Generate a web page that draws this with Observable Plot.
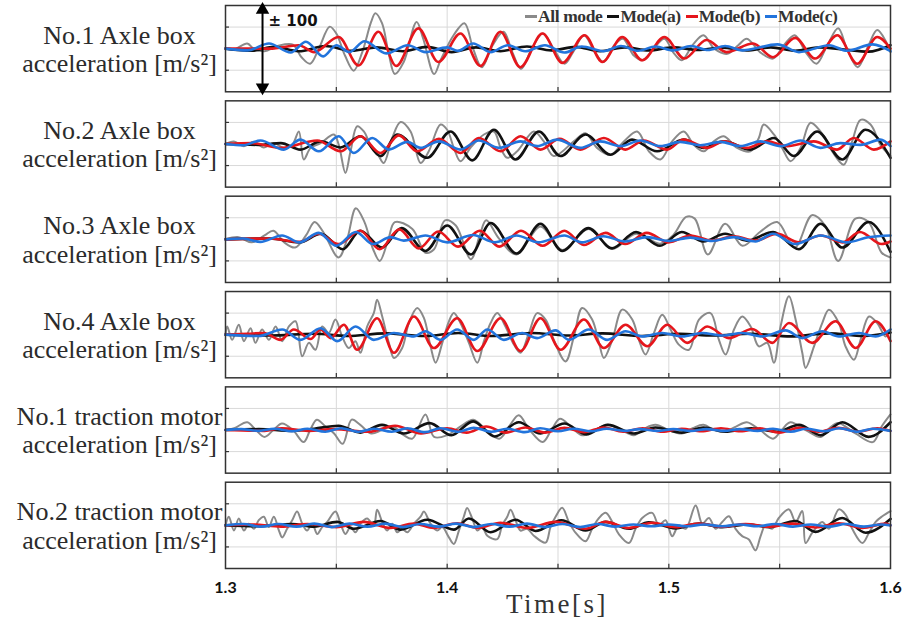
<!DOCTYPE html>
<html><head><meta charset="utf-8">
<script src="https://cdn.jsdelivr.net/npm/d3@7"></script>
<script src="https://cdn.jsdelivr.net/npm/@observablehq/plot@0.6"></script>
<style>
body{margin:0;background:#fff}
#wrap{position:relative;width:907px;height:621px}
#legend{position:absolute;left:520px;top:6px;display:flex;align-items:center;font:bold 17.5px 'Liberation Serif',serif;color:#333;white-space:nowrap;letter-spacing:-0.4px}
.sw{display:inline-block;width:12px;height:3px;margin:0 1px 0 5px}
#xtitle{position:absolute;left:0;width:907px;top:589px;padding-left:207px;box-sizing:border-box;text-align:center;font:27px 'Liberation Serif',serif;color:#333;letter-spacing:2.5px}
</style>
</head><body><div id="wrap"><div id="legend"></div><div id="xtitle"></div></div>
<script>
// ---------------- data ----------------
const panelIds = [1, 2, 3, 4, 5, 6];
const panelLabels = [
  "No.1 Axle box\nacceleration [m/s²]",
  "No.2 Axle box\nacceleration [m/s²]",
  "No.3 Axle box\nacceleration [m/s²]",
  "No.4 Axle box\nacceleration [m/s²]",
  "No.1 traction motor\nacceleration [m/s²]",
  "No.2 traction motor\nacceleration [m/s²]"
];
const seriesNames = ["All mode", "Mode(a)", "Mode(b)", "Mode(c)"];
const seriesColors = ["#8a8a8a", "#111111", "#e5161c", "#2274dc"];
const xDomain = [1.3, 1.6];
const yDomain = [-100, 100];
const xTickLabels = [1.3, 1.4, 1.5, 1.6];
const xGridTicks = [1.35, 1.4, 1.45, 1.5, 1.55];
const yGridTicks = [-50, 50];
const xAxisTitle = "Time[s]";
const rangeLabel = "± 100";
const rangeValue = 100;
const rangeAt = 1.3167;

// [time s, acceleration] pairs
const allMode1 = [[1.300,0],[1.3039,-2],[1.3098,12],[1.3127,0],[1.3176,-6],[1.3235,6],[1.3304,9],[1.3343,-20],[1.3382,-35],[1.3421,0],[1.3470,51],[1.3500,35],[1.3539,-16],[1.3578,-51],[1.3617,-8],[1.3657,62],[1.3676,82],[1.3706,59],[1.3735,-8],[1.3764,-59],[1.3804,-31],[1.3862,62],[1.3892,23],[1.3941,-59],[1.3970,-27],[1.4029,31],[1.4078,59],[1.4117,0],[1.4156,-43],[1.4205,8],[1.4254,39],[1.4294,-8],[1.4333,-47],[1.4382,0],[1.4431,35],[1.4480,0],[1.4529,-35],[1.4568,-8],[1.4617,31],[1.4666,-8],[1.4705,-31],[1.4754,8],[1.4793,23],[1.4842,-16],[1.4882,-27],[1.4931,0],[1.4980,23],[1.5019,-8],[1.5058,-27],[1.5107,8],[1.5156,31],[1.5205,0],[1.5264,-12],[1.5313,8],[1.5352,23],[1.5411,-8],[1.5470,-23],[1.5519,8],[1.5568,31],[1.5617,-8],[1.5666,-35],[1.5715,8],[1.5764,47],[1.5803,0],[1.5852,-43],[1.5901,8],[1.5940,43],[1.5980,16],[1.600,-8]];
const modeA1 = [[1.300,0],[1.312,-5],[1.322,4],[1.333,-6],[1.345,6],[1.357,-5],[1.368,3],[1.380,-6],[1.391,4],[1.402,-8],[1.413,3],[1.424,-6],[1.436,5],[1.447,-4],[1.458,4],[1.469,-6],[1.480,3],[1.491,-4],[1.502,3],[1.513,-3],[1.524,2],[1.535,-4],[1.546,3],[1.557,-5],[1.568,3],[1.579,-2],[1.590,-7],[1.600,8]];
const modeB1 = [[1.300,0],[1.320,0],[1.333,8],[1.340,-8],[1.351,27],[1.360,-39],[1.369,39],[1.377,-40],[1.387,47],[1.396,-31],[1.406,35],[1.415,-40],[1.424,39],[1.433,-43],[1.443,35],[1.452,-33],[1.462,31],[1.470,-31],[1.479,27],[1.488,-27],[1.498,27],[1.507,-23],[1.517,20],[1.526,-8],[1.538,12],[1.547,-20],[1.557,25],[1.566,-23],[1.576,31],[1.585,-35],[1.594,27],[1.600,0]];
const modeC1 = [[1.300,0],[1.310,-4],[1.3196,12],[1.3294,-9],[1.3363,16],[1.3441,-18],[1.3500,8],[1.3559,-8],[1.3627,17],[1.3725,-11],[1.3823,8],[1.3902,-8],[1.4000,3],[1.4049,-5],[1.4117,12],[1.4196,-8],[1.4274,8],[1.4352,-6],[1.4441,8],[1.4529,-9],[1.4607,5],[1.4705,-6],[1.4784,6],[1.4862,-5],[1.4940,5],[1.5020,-4],[1.5100,6],[1.5176,-3],[1.5254,6],[1.5333,-4],[1.5490,10],[1.5587,-8],[1.5724,8],[1.5803,-5],[1.5920,10],[1.600,-6]];

const allMode2 = [[1.300,0],[1.3038,6],[1.3083,-5],[1.3128,5],[1.3173,-8],[1.3218,2],[1.3263,-9],[1.3301,-2],[1.3331,29],[1.3353,-36],[1.3384,-9],[1.3429,2],[1.3489,22],[1.3511,-2],[1.3541,-67],[1.3564,-17],[1.3594,41],[1.3624,29],[1.3654,-2],[1.3684,-21],[1.3714,-44],[1.3752,14],[1.3790,51],[1.3835,29],[1.3880,-44],[1.3917,-17],[1.3970,45],[1.4000,33],[1.4030,-9],[1.4060,-40],[1.4105,-9],[1.4166,22],[1.4211,29],[1.4241,-9],[1.4271,-32],[1.4316,-17],[1.4391,29],[1.4436,6],[1.4481,-28],[1.4571,6],[1.4624,25],[1.4676,-9],[1.4737,-25],[1.4797,6],[1.4857,29],[1.4910,-17],[1.4962,-36],[1.5015,6],[1.5067,29],[1.5113,-2],[1.5158,-17],[1.5203,6],[1.5248,18],[1.5308,-9],[1.5368,-17],[1.5406,14],[1.5428,45],[1.5474,22],[1.5511,-9],[1.5549,-40],[1.5594,-9],[1.5639,49],[1.5684,29],[1.5737,-17],[1.5789,-48],[1.5827,6],[1.5865,56],[1.5910,45],[1.5955,-2],[1.600,-28]];
const modeA2 = [[1.300,0],[1.315,-2],[1.325,2],[1.3338,-13],[1.3429,6],[1.3519,-8],[1.3609,18],[1.3699,-28],[1.3775,22],[1.3910,-32],[1.4015,29],[1.4113,-38],[1.4211,33],[1.4308,-36],[1.4414,29],[1.4511,-28],[1.4624,22],[1.4737,-25],[1.4834,10],[1.4947,-17],[1.5067,10],[1.5158,-9],[1.5248,6],[1.5368,-13],[1.5474,14],[1.5564,-28],[1.5669,29],[1.5782,-36],[1.5887,33],[1.600,-32]];
const modeB2 = [[1.300,0],[1.312,2],[1.3248,-9],[1.3414,8],[1.3519,-17],[1.3609,18],[1.3699,-21],[1.3782,20],[1.3865,-17],[1.3963,12],[1.4060,-21],[1.4143,14],[1.4241,-17],[1.4331,18],[1.4421,-13],[1.4508,12],[1.4601,-13],[1.4707,14],[1.4804,-13],[1.4887,8],[1.4992,-13],[1.5067,10],[1.5173,-9],[1.5248,6],[1.5353,-9],[1.5443,6],[1.5534,-5],[1.5654,6],[1.5759,-13],[1.5834,14],[1.5925,-13],[1.600,6]];
const modeC2 = [[1.300,0],[1.308,-3],[1.3158,8],[1.3263,-13],[1.3338,10],[1.3421,-17],[1.3511,18],[1.3579,-21],[1.3662,14],[1.3737,-13],[1.3820,5],[1.3880,-9],[1.3963,6],[1.4060,-13],[1.4143,8],[1.4233,-9],[1.4331,6],[1.4406,-5],[1.4496,10],[1.4601,-9],[1.4691,6],[1.4782,-5],[1.4872,8],[1.4962,-5],[1.5052,5],[1.5143,-3],[1.5233,5],[1.5323,-5],[1.5413,6],[1.5504,-5],[1.5594,8],[1.5684,-9],[1.5774,2],[1.5865,-2],[1.5955,10],[1.600,-5]];

const allMode3 = [[1.300,0],[1.3059,5],[1.3118,-7],[1.3176,9],[1.3216,20],[1.3265,-7],[1.3314,-19],[1.3363,9],[1.3402,40],[1.3441,17],[1.3510,-42],[1.3549,1],[1.3588,72],[1.3627,40],[1.3666,-23],[1.3696,-50],[1.3735,1],[1.3764,40],[1.3843,24],[1.3902,-31],[1.3941,-23],[1.3990,44],[1.4039,32],[1.4107,-46],[1.4147,9],[1.4176,44],[1.4235,1],[1.4313,-35],[1.4421,30],[1.4519,-25],[1.4637,24],[1.4744,-22],[1.4852,13],[1.4960,-10],[1.5019,9],[1.5078,52],[1.5117,48],[1.5176,-35],[1.5254,36],[1.5332,-15],[1.5411,17],[1.5489,40],[1.5568,-19],[1.5646,56],[1.5705,32],[1.5764,-50],[1.5842,48],[1.5901,40],[1.5960,-31],[1.600,-42]];
const modeA3 = [[1.300,0],[1.320,2],[1.3333,-7],[1.3431,13],[1.3529,-23],[1.3608,20],[1.3706,-19],[1.3794,26],[1.3902,-27],[1.4000,32],[1.4107,-35],[1.4196,38],[1.4313,-33],[1.4421,36],[1.4519,-27],[1.4637,26],[1.4744,-21],[1.4852,17],[1.4960,-15],[1.5058,17],[1.5156,-5],[1.5254,13],[1.5352,-3],[1.5470,17],[1.5587,-23],[1.5685,36],[1.5783,-19],[1.5901,40],[1.600,-29]];
const modeB3 = [[1.300,0],[1.320,2],[1.3333,-6],[1.3421,13],[1.3510,-11],[1.3608,20],[1.3696,-23],[1.3784,23],[1.3872,-21],[1.3960,18],[1.4049,-17],[1.4147,20],[1.4235,-17],[1.4333,20],[1.4431,-15],[1.4529,20],[1.4617,-13],[1.4715,15],[1.4803,-11],[1.4901,15],[1.4999,-7],[1.5097,9],[1.5195,-3],[1.5293,7],[1.5391,-3],[1.5489,13],[1.5587,-7],[1.5685,9],[1.5783,-7],[1.5862,17],[1.5960,-11],[1.600,-5]];
const modeC3 = [[1.300,0],[1.308,2],[1.3157,-6],[1.3255,9],[1.3333,-7],[1.3421,15],[1.3500,-15],[1.3588,17],[1.3666,-11],[1.3745,5],[1.3804,-3],[1.3902,9],[1.4000,-7],[1.4117,10],[1.4215,-7],[1.4313,9],[1.4411,-7],[1.4529,9],[1.4607,-7],[1.4705,7],[1.4803,-5],[1.4901,5],[1.4999,-4],[1.5097,4],[1.5195,-4],[1.5293,5],[1.5391,-5],[1.5470,13],[1.5568,-11],[1.5685,9],[1.5803,-7],[1.5901,5],[1.600,9]];

const allMode4 = [[1.300,0],[1.3008,19],[1.3030,-12],[1.3060,23],[1.3083,-15],[1.3113,15],[1.3135,-19],[1.3165,12],[1.3196,-12],[1.3226,19],[1.3256,-15],[1.3286,19],[1.3316,31],[1.3346,-50],[1.3376,-19],[1.3406,-35],[1.3436,19],[1.3466,4],[1.3496,35],[1.3526,-4],[1.3556,-31],[1.3586,-15],[1.3609,-42],[1.3639,19],[1.3669,50],[1.3684,81],[1.3707,42],[1.3737,-19],[1.3760,-54],[1.3797,-31],[1.3827,27],[1.3865,62],[1.3895,39],[1.3925,-27],[1.3948,-65],[1.3978,-19],[1.4008,31],[1.4030,50],[1.4060,27],[1.4098,-19],[1.4136,-65],[1.4166,-15],[1.4196,27],[1.4226,50],[1.4263,19],[1.4301,-23],[1.4331,-42],[1.4369,4],[1.4406,50],[1.4444,35],[1.4481,-12],[1.4534,-62],[1.4572,-4],[1.4609,62],[1.4654,35],[1.4685,-19],[1.4707,-54],[1.4745,-12],[1.4790,58],[1.4835,35],[1.4865,-12],[1.4895,-46],[1.4933,4],[1.4970,46],[1.5008,12],[1.5045,-23],[1.5091,-35],[1.5136,35],[1.5188,50],[1.5226,-12],[1.5256,-46],[1.5294,12],[1.5331,42],[1.5369,19],[1.5406,-27],[1.5444,-19],[1.5474,-65],[1.5504,19],[1.5542,89],[1.5572,35],[1.5602,-42],[1.5617,-77],[1.5655,-27],[1.5692,27],[1.5722,58],[1.5767,27],[1.5797,-27],[1.5835,-58],[1.5865,-12],[1.5903,42],[1.5940,27],[1.5978,-4],[1.600,12]];
const modeA4 = [[1.300,0],[1.320,-2],[1.340,2],[1.355,-3],[1.372,3],[1.390,-3],[1.405,4],[1.420,-3],[1.438,4],[1.455,-2],[1.470,3],[1.488,-3],[1.505,2],[1.520,-2],[1.537,2],[1.555,-4],[1.572,3],[1.588,-3],[1.600,5]];
const modeB4 = [[1.300,0],[1.310,2],[1.3173,4],[1.3248,-12],[1.3308,12],[1.3384,-10],[1.3429,12],[1.3474,-8],[1.3534,23],[1.3594,-35],[1.3684,38],[1.3760,-42],[1.3850,42],[1.3940,-31],[1.4045,38],[1.4136,-38],[1.4241,38],[1.4331,-38],[1.4421,38],[1.4512,-35],[1.4617,35],[1.4707,-31],[1.4805,23],[1.4903,-27],[1.4993,23],[1.5083,-19],[1.5173,19],[1.5271,-8],[1.5376,13],[1.5467,-19],[1.5542,27],[1.5647,-19],[1.5752,31],[1.5843,-31],[1.5933,31],[1.600,-15]];
const modeC4 = [[1.300,0],[1.315,-3],[1.3256,12],[1.3338,-12],[1.3429,15],[1.3504,-15],[1.3587,19],[1.3669,-12],[1.3760,4],[1.3850,-4],[1.3902,8],[1.3970,-12],[1.4045,12],[1.4120,-12],[1.4181,12],[1.4256,-12],[1.4339,4],[1.4406,-8],[1.4489,10],[1.4549,-12],[1.4639,12],[1.4722,-12],[1.4805,8],[1.4880,-4],[1.4970,4],[1.5061,-4],[1.5151,4],[1.5241,-2],[1.5331,4],[1.5422,-4],[1.5527,10],[1.5602,-8],[1.5692,8],[1.5767,-4],[1.5858,4],[1.5933,-4],[1.600,12]];

const allMode5 = [[1.300,0],[1.3039,4],[1.3098,18],[1.3137,0],[1.3176,-16],[1.3216,0],[1.3255,15],[1.3304,0],[1.3353,-28],[1.3382,0],[1.3412,24],[1.3451,8],[1.3490,-8],[1.3529,-32],[1.3569,24],[1.3608,12],[1.3657,-8],[1.3706,0],[1.3755,8],[1.3804,-12],[1.3843,-20],[1.3902,36],[1.3941,-16],[1.4000,-12],[1.4059,8],[1.4118,24],[1.4176,0],[1.4235,-20],[1.4284,12],[1.4323,34],[1.4372,0],[1.4431,-28],[1.4470,0],[1.4509,26],[1.4558,8],[1.4608,-12],[1.4666,0],[1.4725,12],[1.4784,0],[1.4842,-12],[1.4892,4],[1.4940,12],[1.4999,0],[1.5058,-8],[1.5107,4],[1.5156,12],[1.5205,0],[1.5254,-4],[1.5303,8],[1.5352,18],[1.5411,0],[1.5470,-20],[1.5509,0],[1.5548,18],[1.5617,0],[1.5685,-16],[1.5724,4],[1.5764,16],[1.5842,-8],[1.5920,-28],[1.5960,8],[1.600,36]];
const modeA5 = [[1.300,0],[1.315,2],[1.330,-2],[1.340,3],[1.3510,10],[1.3608,-6],[1.3706,12],[1.3804,-8],[1.3921,16],[1.4019,-12],[1.4117,20],[1.4215,-15],[1.4323,18],[1.4421,-8],[1.4529,15],[1.4627,-10],[1.4725,12],[1.4842,-8],[1.4940,6],[1.5058,-6],[1.5156,6],[1.5254,-4],[1.5372,4],[1.5489,-4],[1.5587,12],[1.5685,-12],[1.5783,18],[1.5901,-16],[1.600,18]];
const modeB5 = [[1.300,0],[1.3176,-2],[1.3255,4],[1.3372,-2],[1.3490,2],[1.3647,-4],[1.3765,10],[1.3882,-8],[1.4000,4],[1.4088,-6],[1.4176,8],[1.4265,-6],[1.4353,6],[1.4441,-6],[1.4529,5],[1.4618,-5],[1.4706,6],[1.4794,-4],[1.4882,4],[1.4970,-4],[1.5058,3],[1.5147,-3],[1.5235,4],[1.5323,-3],[1.5411,4],[1.5499,-6],[1.5588,5],[1.5676,-4],[1.5764,5],[1.5852,-4],[1.5940,4],[1.600,-2]];
const modeC5 = [[1.300,0],[1.307,2],[1.315,-2],[1.322,3],[1.330,-3],[1.337,3],[1.345,-4],[1.352,4],[1.360,-4],[1.367,3],[1.375,-4],[1.382,4],[1.390,-5],[1.397,4],[1.405,-4],[1.412,5],[1.420,-4],[1.427,3],[1.435,-5],[1.442,4],[1.450,-3],[1.457,3],[1.465,-3],[1.472,3],[1.480,-2],[1.487,2],[1.495,-2],[1.502,2],[1.510,-2],[1.517,2],[1.525,-2],[1.532,2],[1.540,-2],[1.547,3],[1.555,-4],[1.562,3],[1.570,-3],[1.577,4],[1.585,-4],[1.592,3],[1.600,-2]];

const allMode6 = [[1.300,0],[1.3015,20],[1.3038,-12],[1.3060,16],[1.3083,-12],[1.3105,4],[1.3128,-8],[1.3150,12],[1.3173,20],[1.3195,-4],[1.3218,20],[1.3241,-12],[1.3256,-28],[1.3278,-8],[1.3301,12],[1.3323,32],[1.3346,4],[1.3368,-12],[1.3391,4],[1.3414,-20],[1.3436,-4],[1.3459,8],[1.3496,32],[1.3519,4],[1.3541,-20],[1.3564,-4],[1.3586,-16],[1.3609,4],[1.3639,16],[1.3669,0],[1.3684,36],[1.3707,8],[1.3729,-12],[1.3752,4],[1.3775,-16],[1.3797,-8],[1.3820,-16],[1.3850,4],[1.3880,20],[1.3895,32],[1.3925,4],[1.3955,-12],[1.3978,-4],[1.4008,-28],[1.4030,-43],[1.4053,-12],[1.4075,20],[1.4090,40],[1.4113,16],[1.4136,-12],[1.4158,-4],[1.4181,-24],[1.4226,-32],[1.4248,0],[1.4271,20],[1.4286,36],[1.4308,12],[1.4331,-12],[1.4361,-8],[1.4391,-24],[1.4444,-40],[1.4466,-4],[1.4489,20],[1.4519,41],[1.4549,8],[1.4579,-17],[1.4624,-37],[1.4654,-8],[1.4685,17],[1.4715,29],[1.4745,8],[1.4775,-21],[1.4820,-41],[1.4850,-8],[1.4880,17],[1.4925,29],[1.4955,0],[1.4985,12],[1.5015,-25],[1.5045,0],[1.5076,-8],[1.5121,46],[1.5151,4],[1.5181,17],[1.5211,-8],[1.5241,8],[1.5271,21],[1.5301,-8],[1.5331,-25],[1.5361,-33],[1.5391,-58],[1.5414,-25],[1.5436,0],[1.5466,-8],[1.5496,17],[1.5542,37],[1.5572,8],[1.5602,33],[1.5617,-41],[1.5647,-17],[1.5692,8],[1.5722,-8],[1.5767,37],[1.5797,25],[1.5827,-8],[1.5873,-41],[1.5903,-17],[1.5933,8],[1.5963,21],[1.600,33]];
const modeA6 = [[1.300,0],[1.315,-2],[1.330,3],[1.340,-3],[1.3504,8],[1.3579,-8],[1.3699,10],[1.3790,-10],[1.3910,13],[1.4030,-10],[1.4098,16],[1.4196,-16],[1.4308,13],[1.4399,-13],[1.4515,12],[1.4624,-12],[1.4715,8],[1.4820,-8],[1.4910,7],[1.5030,-7],[1.5136,4],[1.5241,-4],[1.5361,2],[1.5452,-4],[1.5572,10],[1.5662,-15],[1.5782,17],[1.5888,-17],[1.600,15]];
const modeB6 = [[1.300,0],[1.312,2],[1.325,-3],[1.337,3],[1.350,-4],[1.3624,8],[1.3745,-6],[1.3850,4],[1.3940,-6],[1.4045,5],[1.4136,-6],[1.4241,6],[1.4360,-6],[1.4489,8],[1.4624,-8],[1.4715,8],[1.4820,-6],[1.4925,6],[1.5030,-4],[1.5136,4],[1.5241,-3],[1.5346,3],[1.5452,-3],[1.5557,4],[1.5662,-5],[1.5767,5],[1.5873,-6],[1.5978,4],[1.600,0]];
const modeC6 = [[1.300,0],[1.308,3],[1.316,-3],[1.324,3],[1.332,-3],[1.340,4],[1.348,-4],[1.356,4],[1.364,-3],[1.372,4],[1.380,-4],[1.388,3],[1.396,-3],[1.404,4],[1.412,-4],[1.420,3],[1.428,-3],[1.436,4],[1.444,-4],[1.452,3],[1.460,-4],[1.468,3],[1.476,-3],[1.484,2],[1.492,-2],[1.500,2],[1.508,-2],[1.516,2],[1.524,-2],[1.532,2],[1.540,-2],[1.548,3],[1.556,-3],[1.564,2],[1.572,-3],[1.580,3],[1.588,-3],[1.596,2],[1.600,0]];

const seriesByPanel = [
  [allMode1, allMode2, allMode3, allMode4, allMode5, allMode6],
  [modeA1, modeA2, modeA3, modeA4, modeA5, modeA6],
  [modeB1, modeB2, modeB3, modeB4, modeB5, modeB6],
  [modeC1, modeC2, modeC3, modeC4, modeC5, modeC6]
];

// ---------------- tables ----------------
const rows = [];
seriesNames.forEach((s, si) => {
  seriesByPanel[si].forEach((arr, pi) => {
    arr.slice().sort((a, b) => a[0] - b[0]).forEach(([t, v]) => rows.push({series: s, panel: panelIds[pi], t, v}));
  });
});
const labelRows = panelIds.map((p, i) => ({panel: p, label: panelLabels[i]}));
const arrowRow = [{panel: panelIds[0], t: rangeAt, v1: -rangeValue, v2: rangeValue, label: rangeLabel}];
const headRows = [{panel: panelIds[0], t: rangeAt, v: rangeValue, rot: 0}, {panel: panelIds[0], t: rangeAt, v: -rangeValue, rot: 180}];
const bottomTicks = xGridTicks.map(t => ({t, v1: yDomain[0], v2: yDomain[0] * 0.9}));
const leftTicks = yGridTicks.map(v => ({v, t1: xDomain[0], t2: xDomain[0] + 0.0018}));

const lineMarks = seriesNames.map((s, i) => Plot.line(rows.filter(d => d.series === s), {
  x: "t", y: "v", fy: "panel", z: "panel",
  stroke: seriesColors[i],
  strokeWidth: i === 0 ? 2 : 2.6,
  curve: i === 0 ? "catmull-rom" : "monotone-x"
}));

const chart = Plot.plot({
  width: 907, height: 621,
  marginLeft: 225, marginRight: 17, marginTop: 5, marginBottom: 53,
  x: {domain: xDomain, axis: null},
  y: {domain: yDomain, axis: null},
  fy: {domain: panelIds, axis: null, paddingInner: 0.095, paddingOuter: 0, round: false},
  style: {background: "white", overflow: "visible"},
  marks: [
    Plot.ruleX(xGridTicks, {stroke: "#d9d9d9", strokeWidth: 1}),
    Plot.ruleY(yGridTicks, {stroke: "#d9d9d9", strokeWidth: 1}),
    ...lineMarks,
    Plot.ruleX(bottomTicks, {x: "t", y1: "v1", y2: "v2", stroke: "#333", strokeWidth: 1.2}),
    Plot.ruleY(leftTicks, {y: "v", x1: "t1", x2: "t2", stroke: "#333", strokeWidth: 1.2}),
    Plot.frame({stroke: "#333", strokeWidth: 1.5}),
    Plot.ruleX(arrowRow, {x: "t", y1: d => d.v1 * 0.92, y2: d => d.v2 * 0.92, fy: "panel", stroke: "#000", strokeWidth: 2}),
    Plot.dot(headRows, {x: "t", y: d => d.v * 0.9, fy: "panel", symbol: "triangle", r: 5, fill: "#000", stroke: "none", rotate: "rot"}),
    Plot.text(arrowRow, {x: "t", y: d => d.v2 * 0.64, fy: "panel", text: "label", dx: 6, textAnchor: "start", fontSize: 15, fontWeight: "bold", fontFamily: "DejaVu Sans", fill: "#111"}),
    Plot.text(labelRows, {fy: "panel", text: "label", frameAnchor: "left", textAnchor: "middle", dx: -106, dy: 0, fontSize: 26, lineHeight: 1.1, fontFamily: "Liberation Serif", fill: "#2b2b2b"}),
    Plot.axisX({ticks: xTickLabels, tickFormat: d => d.toFixed(1), tickSize: 0, tickPadding: 13, fontSize: 16, fontWeight: "bold", fontFamily: "Lato", fill: "#111", label: null})
  ]
});
const wrap = document.getElementById("wrap");
wrap.prepend(chart);
document.getElementById("xtitle").textContent = xAxisTitle;

// legend overlay
const legend = document.getElementById("legend");
seriesNames.forEach((s, i) => {
  const sw = document.createElement("span");
  sw.className = "sw";
  sw.style.background = seriesColors[i];
  const tx = document.createElement("span");
  tx.textContent = s;
  legend.append(sw, tx);
});
</script></body></html>
